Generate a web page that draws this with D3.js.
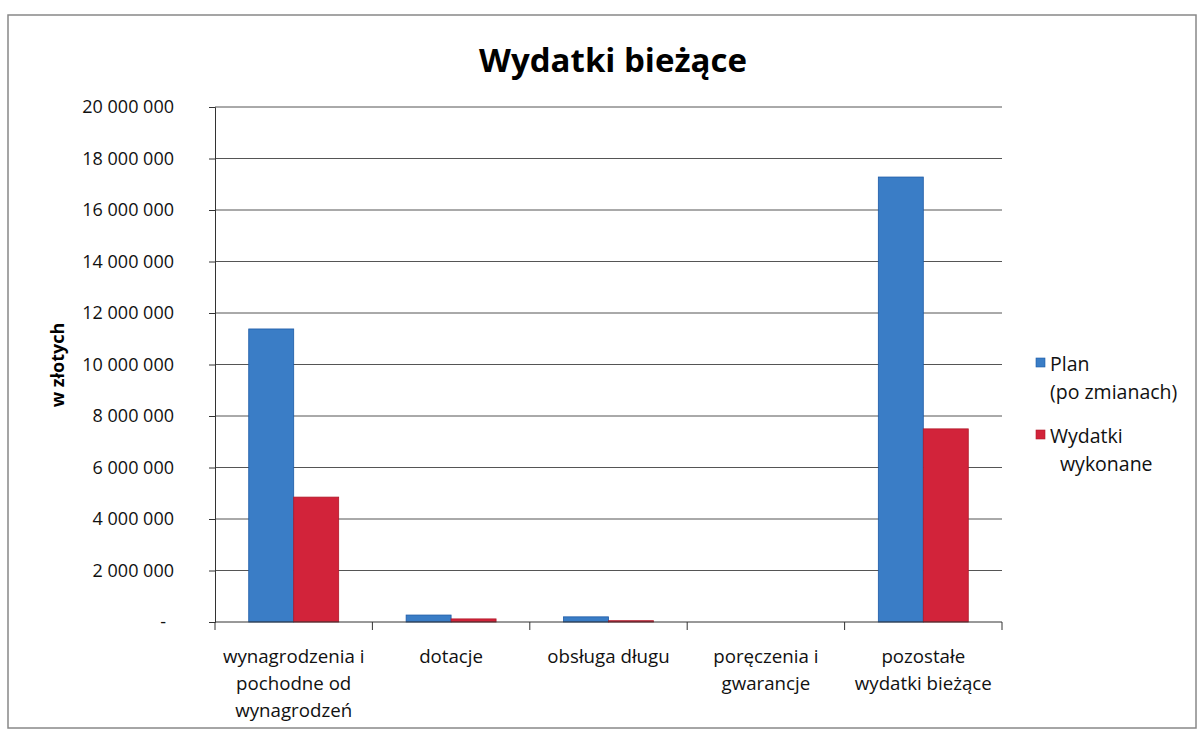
<!DOCTYPE html>
<html>
<head>
<meta charset="utf-8">
<script src="https://cdn.jsdelivr.net/npm/d3@7"></script>
<style>
  body { margin: 0; background: #fff; }
  svg { font-family: "Open Sans", "DejaVu Sans", sans-serif; }
</style>
</head>
<body>
<div id="chart"></div>
<script>
const categories = [
  ["wynagrodzenia i", "pochodne od", "wynagrodzeń"],
  ["dotacje"],
  ["obsługa długu"],
  ["poręczenia i", "gwarancje"],
  ["pozostałe", "wydatki bieżące"]
];
const planValues     = [11380000, 270000, 200000, 0, 17280000];
const wykonaneValues = [4850000, 120000, 50000, 0, 7500000];
const seriesNames = [["Plan", "(po zmianach)"], ["Wydatki", "wykonane"]];
const yTicks = [0, 2e6, 4e6, 6e6, 8e6, 10e6, 12e6, 14e6, 16e6, 18e6, 20e6];

const width = 1201, height = 731;
const colours = ["#3a7dc6", "#d2233a"];
const strokes = ["#1d5aa6", "#b01828"];

const svg = d3.select("#chart").append("svg")
  .attr("width", width).attr("height", height);

// frame of the scanned chart
svg.append("rect")
  .attr("x", 8).attr("y", 15).attr("width", 1188).attr("height", 713)
  .attr("fill", "none").attr("stroke", "#888").attr("stroke-width", 1.5);

svg.append("text")
  .attr("x", 613).attr("y", 72)
  .attr("text-anchor", "middle")
  .style("font-size", "33px").style("font-weight", "bold")
  .text("Wydatki bieżące");

const plot = { left: 215, right: 1002, top: 107, bottom: 622 };

const x = d3.scaleBand()
  .domain(d3.range(categories.length))
  .range([plot.left, plot.right])
  .paddingInner(0).paddingOuter(0);

const y = d3.scaleLinear().domain([0, 20e6]).range([plot.bottom, plot.top]);

const fmt = v => v === 0 ? "-" : d3.format(",")(v).replace(/,/g, " ");

// gridlines
svg.append("g").selectAll("line")
  .data(yTicks.filter(d => d > 0))
  .join("line")
    .attr("x1", plot.left).attr("x2", plot.right)
    .attr("y1", d => y(d)).attr("y2", d => y(d))
    .attr("stroke", "#555").attr("stroke-width", 1);

// y axis
const yAxis = svg.append("g")
  .attr("transform", `translate(${plot.left},0)`)
  .call(d3.axisLeft(y).tickValues(yTicks).tickFormat(fmt).tickSize(6).tickPadding(35));
yAxis.attr("font-family", null).attr("font-size", null);
yAxis.select(".domain").attr("stroke", "#333");
yAxis.selectAll(".tick line").attr("stroke", "#333");
yAxis.selectAll("text")
  .style("font-size", "18px").attr("fill", "#111")
  .attr("dx", d => d === 0 ? -8 : 0);

svg.append("text")
  .attr("transform", "translate(64,365) rotate(-90)")
  .attr("text-anchor", "middle")
  .style("font-size", "18px").style("font-weight", "bold")
  .text("w złotych");

// bars
const barW = x.bandwidth() / 3.5;
const series = [planValues, wykonaneValues];
series.forEach((vals, s) => {
  svg.append("g").selectAll("rect")
    .data(vals)
    .join("rect")
      .attr("x", (d, i) => x(i) + barW * 0.75 + s * barW)
      .attr("y", d => y(d))
      .attr("width", barW)
      .attr("height", d => y(0) - y(d))
      .attr("fill", colours[s])
      .attr("stroke", strokes[s]).attr("stroke-width", 0.8);
});

// x axis
const xAxis = svg.append("g").attr("transform", `translate(0,${plot.bottom})`);
xAxis.append("line")
  .attr("x1", plot.left).attr("x2", plot.right)
  .attr("stroke", "#333");
xAxis.selectAll(".tk")
  .data(d3.range(categories.length + 1))
  .join("line")
    .attr("class", "tk")
    .attr("x1", i => i < categories.length ? x(i) : plot.right)
    .attr("x2", i => i < categories.length ? x(i) : plot.right)
    .attr("y1", 0).attr("y2", 8)
    .attr("stroke", "#333");

xAxis.selectAll("text.cat")
  .data(categories)
  .join("text")
    .attr("class", "cat")
    .attr("text-anchor", "middle")
    .style("font-size", "18.7px").attr("fill", "#111")
    .each(function(lines, i) {
      d3.select(this).selectAll("tspan")
        .data(lines)
        .join("tspan")
          .attr("x", x(i) + x.bandwidth() / 2)
          .attr("y", (l, j) => 41 + j * 27)
          .text(l => l);
    });

// legend
const legend = svg.append("g").attr("transform", "translate(1036,0)");
seriesNames.forEach((lines, s) => {
  const y0 = 358 + s * 72;
  legend.append("rect")
    .attr("x", 0).attr("y", y0).attr("width", 9).attr("height", 9)
    .attr("fill", colours[s]).attr("stroke", strokes[s]).attr("stroke-width", 0.6);
  legend.append("text")
    .style("font-size", "19.5px").attr("fill", "#111")
    .selectAll("tspan")
    .data(lines)
    .join("tspan")
      .attr("x", (l, j) => s === 1 && j === 1 ? 24 : 14)
      .attr("y", (l, j) => y0 + 13 + j * 28)
      .text(l => l);
});
</script>
</body>
</html>
